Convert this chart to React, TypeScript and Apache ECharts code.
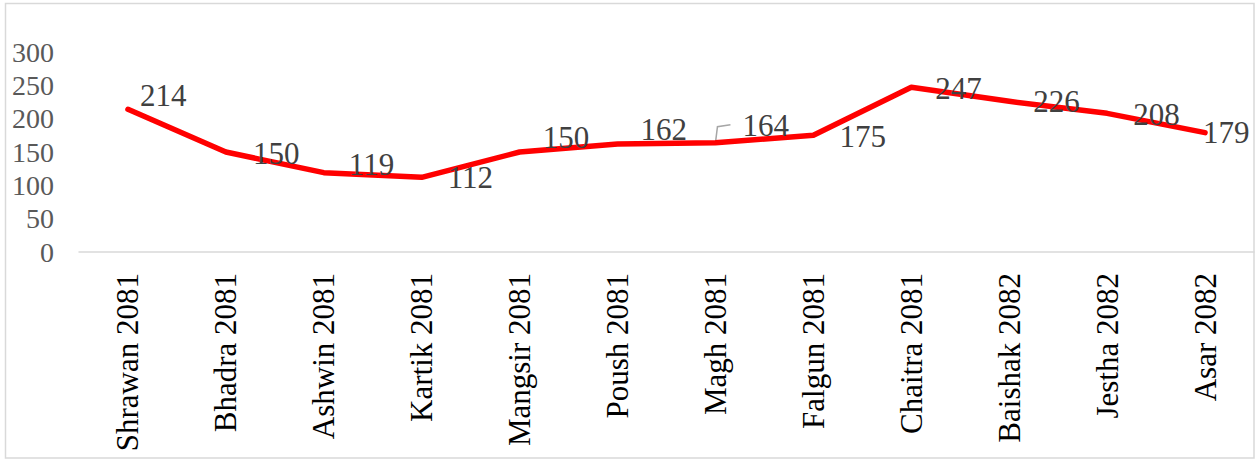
import React, { useEffect, useRef } from "react";
import * as echarts from "echarts";

const categories = [
  "Shrawan 2081", "Bhadra 2081", "Ashwin 2081", "Kartik 2081", "Mangsir 2081", "Poush 2081",
  "Magh 2081", "Falgun 2081", "Chaitra 2081", "Baishak 2082", "Jestha 2082", "Asar 2082",
];
const values = [214, 150, 119, 112, 150, 162, 164, 175, 247, 226, 208, 179];
const yTicks = { min: 0, max: 300, interval: 50 };
// label placement offsets (style only)
const labelOffsets: [number, number][] = [
  [11, -14], [26, 1], [24, -8], [25, 0], [22, -15], [22, -15],
  [26, -17], [25, 1], [23, 1], [23, 0], [25, 1], [-3, 0],
];

const FONT = "'Liberation Serif', 'Times New Roman', serif";

export default function App() {
  const ref = useRef<HTMLDivElement>(null);
  useEffect(() => {
    if (!ref.current) return;
    const chart = echarts.init(ref.current, undefined, { renderer: "svg" });
    chart.setOption({
      animation: false,
      backgroundColor: "#ffffff",
      grid: { left: 79, right: 4, top: 52, bottom: 207, containLabel: false },
      xAxis: {
        type: "category",
        data: categories,
        boundaryGap: true,
        axisLine: { show: true, lineStyle: { color: "#d9d9d9", width: 1.5 } },
        axisTick: { show: false },
        axisLabel: {
          rotate: 90,
          margin: 21,
          color: "#000000",
          fontFamily: FONT,
          fontSize: 31,
          interval: 0,
        },
      },
      yAxis: {
        type: "value",
        min: yTicks.min,
        max: yTicks.max,
        interval: yTicks.interval,
        axisLine: { show: false },
        axisTick: { show: false },
        splitLine: { show: false },
        axisLabel: { color: "#595959", fontFamily: FONT, fontSize: 28, margin: 25 },
      },
      series: [
        {
          type: "line",
          data: values.map((v, i) => ({
            value: v,
            label: { offset: labelOffsets[i] },
          })),
          showSymbol: true,
          symbol: "circle",
          symbolSize: 2,
          lineStyle: { color: "#ff0000", width: 5.5, cap: "round", join: "round" },
          itemStyle: { color: "#ff0000" },
          label: {
            show: true,
            position: "right",
            distance: 0,
            color: "#404040",
            fontFamily: FONT,
            fontSize: 31,
          },
        },
      ],
    });
    const [px, py] = chart.convertToPixel({ seriesIndex: 0 }, [6, values[6]]) as number[];
    chart.setOption({
      graphic: [
        {
          type: "rect",
          shape: { x: 5.5, y: 3.5, width: 1248.5, height: 454.5 },
          style: { fill: "none", stroke: "#d9d9d9", lineWidth: 1.5 },
          silent: true,
        },
        {
          type: "polyline",
          shape: { points: [[px, py], [px + 2, py - 16], [px + 15, py - 18]] },
          style: { fill: "none", stroke: "#a6a6a6", lineWidth: 1.5 },
          silent: true,
        },
      ],
    });
    return () => chart.dispose();
  }, []);
  return (
    <div
      ref={ref}
      style={{ position: "fixed", left: 0, top: 0, width: 1258, height: 459 }}
    />
  );
}
